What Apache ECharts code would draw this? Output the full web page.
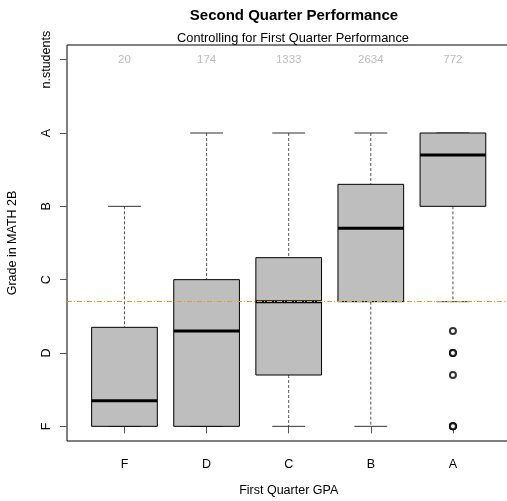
<!DOCTYPE html>
<html>
<head>
<meta charset="utf-8">
<script src="https://cdn.jsdelivr.net/npm/echarts@6/dist/echarts.min.js"></script>
<style>html,body{margin:0;padding:0;background:#fff}#c{width:507px;height:501px}</style>
</head>
<body>
<div id="c"></div>
<script>
const categories = ['F', 'D', 'C', 'B', 'A'];
const gradeLabels = ['F', 'D', 'C', 'B', 'A', 'n.students'];
const nStudents = [20, 174, 1333, 2634, 772];
const whiskerLow = [0, 0, 0, 0, 1.7];
const q1 = [0, 0, 0.7, 1.7, 3.0];
const median = [0.35, 1.3, 1.7, 2.7, 3.7];
const q3 = [1.35, 2.0, 2.3, 3.3, 4.0];
const whiskerHigh = [3.0, 4.0, 4.0, 4.0, 4.0];
const outliersA = [1.3, 1.0, 1.0, 0.7, 0, 0, 0];
const referenceLine = 1.7;

const boxData = categories.map((c, i) => [i + 1, whiskerLow[i], q1[i], median[i], q3[i], whiskerHigh[i]]);
const outlierData = outliersA.map(v => [5, v]);
const countData = nStudents.map((n, i) => [i + 1, 5, n]);

const chart = echarts.init(document.getElementById('c'), null, {renderer: 'canvas'});
const font = 'Liberation Sans, Arial, sans-serif';

chart.setOption({
  animation: false,
  title: [
    {text: 'Second Quarter Performance', left: 289, top: 3, textAlign: 'center',
     textStyle: {fontFamily: font, fontSize: 15, fontWeight: 'bold', color: '#000'}},
    {text: 'Controlling for First Quarter Performance', left: 288, top: 27, textAlign: 'center',
     textStyle: {fontFamily: font, fontSize: 12.8, fontWeight: 'normal', color: '#000'}}
  ],
  grid: {left: 67, top: 45, right: -3.4, bottom: 60, outerBoundsMode: 'none', containLabel: false,
    show: true, borderColor: '#000', borderWidth: 1, backgroundColor: 'transparent'},
  xAxis: {
    type: 'value', min: 0.3, max: 5.7,
    name: 'First Quarter GPA', nameLocation: 'middle', nameGap: 43,
    nameTextStyle: {fontFamily: font, fontSize: 12.5, color: '#000'},
    axisLine: {show: false},
    axisTick: {show: true, length: 7, customValues: [1, 2, 3, 4, 5], lineStyle: {color: '#555'}},
    axisLabel: {customValues: [1, 2, 3, 4, 5], margin: 17, fontFamily: font, fontSize: 12.5, color: '#000',
      formatter: v => categories[Math.round(v) - 1] || ''},
    splitLine: {show: false}
  },
  yAxis: {
    type: 'value', min: -0.2, max: 5.2,
    name: 'Grade in MATH 2B', nameLocation: 'middle', nameGap: 48,
    nameTextStyle: {fontFamily: font, fontSize: 12.5, color: '#000'},
    axisLine: {show: false},
    axisTick: {show: true, length: 7, customValues: [0, 1, 2, 3, 4, 5], lineStyle: {color: '#555'}},
    axisLabel: {customValues: [0, 1, 2, 3, 4, 5], rotate: 90, margin: 14, fontFamily: font, fontSize: 12.5, color: '#000',
      formatter: v => gradeLabels[Math.round(v)] || ''},
    splitLine: {show: false}
  },
  series: [
    {
      type: 'custom',
      data: boxData,
      z: 2,
      renderItem: function (params, api) {
        const x = api.value(0);
        const lo = api.coord([x, api.value(1)]);
        const b1 = api.coord([x - 0.4, api.value(2)]);
        const md = api.coord([x, api.value(3)]);
        const b3 = api.coord([x + 0.4, api.value(4)]);
        const hi = api.coord([x, api.value(5)]);
        const capL = api.coord([x - 0.2, 0])[0];
        const capR = api.coord([x + 0.2, 0])[0];
        const whisk = {stroke: '#555', lineWidth: 1, lineDash: [3, 2]};
        const cap = {stroke: '#333', lineWidth: 1};
        return {
          type: 'group',
          children: [
            {type: 'line', shape: {x1: hi[0], y1: hi[1], x2: hi[0], y2: b3[1]}, style: whisk},
            {type: 'line', shape: {x1: lo[0], y1: b1[1], x2: lo[0], y2: lo[1]}, style: whisk},
            {type: 'line', shape: {x1: capL, y1: hi[1], x2: capR, y2: hi[1]}, style: cap},
            {type: 'line', shape: {x1: capL, y1: lo[1], x2: capR, y2: lo[1]}, style: cap},
            {type: 'rect', shape: {x: b1[0], y: b3[1], width: b3[0] - b1[0], height: b1[1] - b3[1]},
              style: {fill: '#BEBEBE', stroke: '#000', lineWidth: 1}},
            {type: 'line', shape: {x1: b1[0], y1: md[1], x2: b3[0], y2: md[1]}, style: {stroke: '#000', lineWidth: 3}}
          ]
        };
      }
    },
    {
      type: 'scatter',
      data: outlierData,
      symbol: 'emptyCircle',
      symbolSize: 6,
      itemStyle: {color: '#000', borderColor: '#000', borderWidth: 1},
      z: 3
    },
    {
      type: 'custom',
      data: countData,
      z: 3,
      renderItem: function (params, api) {
        const p = api.coord([api.value(0), api.value(1)]);
        return {type: 'text', style: {x: p[0], y: p[1], text: String(api.value(2)), align: 'center', verticalAlign: 'middle',
          fill: '#BDBDBD', font: '11.5px ' + font}};
      }
    },
    {
      type: 'line',
      data: [],
      markLine: {
        silent: true, symbol: 'none', z: 5,
        label: {show: false},
        lineStyle: {color: '#D9A22E', width: 1, type: [5, 2, 1, 2]},
        data: [{yAxis: referenceLine}]
      }
    }
  ]
});
</script>
</body>
</html>
